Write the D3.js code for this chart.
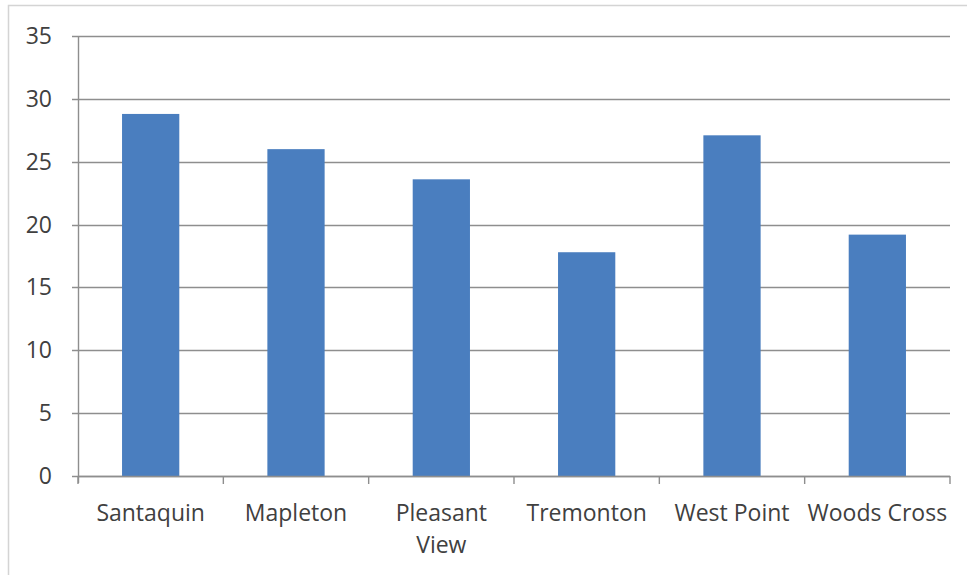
<!DOCTYPE html>
<html>
<head>
<meta charset="utf-8">
<script src="https://cdn.jsdelivr.net/npm/d3@7"></script>
<style>
  html, body { margin: 0; padding: 0; background: #ffffff; }
  svg { display: block; }
  text { font-family: "Open Sans", "Noto Sans", sans-serif; fill: #404040; }
</style>
</head>
<body>
<svg id="chart" width="967" height="575"></svg>
<script>
// Chart data
const categories = ["Santaquin", "Mapleton", "Pleasant View", "Tremonton", "West Point", "Woods Cross"];
const categoryLines = [["Santaquin"], ["Mapleton"], ["Pleasant", "View"], ["Tremonton"], ["West Point"], ["Woods Cross"]];
const values = [28.8, 26.0, 23.6, 17.8, 27.1, 19.2];
const yTicks = [0, 5, 10, 15, 20, 25, 30, 35];

const svg = d3.select("#chart");
const W = 967, H = 575;
const plot = { left: 78, right: 950, top: 36, bottom: 476 };

// Outer chart frame
svg.append("rect")
  .attr("x", 8.5).attr("y", 5.5)
  .attr("width", W + 10).attr("height", H + 10)
  .attr("fill", "none")
  .attr("stroke", "#d4d4d4")
  .attr("stroke-width", 1.5);

const x = d3.scaleBand()
  .domain(categories)
  .range([plot.left, plot.right])
  .paddingInner(0.606)
  .paddingOuter(0.303);

const y = d3.scaleLinear()
  .domain([0, 35])
  .range([plot.bottom, plot.top]);

// Horizontal gridlines with short ticks to the left of the axis
svg.append("g")
  .selectAll("line")
  .data(yTicks)
  .join("line")
  .attr("x1", plot.left - 6)
  .attr("x2", plot.right)
  .attr("y1", d => Math.round(y(d)) + 0.5)
  .attr("y2", d => Math.round(y(d)) + 0.5)
  .attr("stroke", "#8e8e8e")
  .attr("stroke-width", 1.4);

// Y tick labels
svg.append("g")
  .selectAll("text")
  .data(yTicks)
  .join("text")
  .attr("x", 52)
  .attr("y", d => y(d))
  .attr("dy", "0.35em")
  .attr("text-anchor", "end")
  .style("font-size", "23px")
  .text(d => d);

// Bars
svg.append("g")
  .selectAll("rect")
  .data(values)
  .join("rect")
  .attr("x", (d, i) => x(categories[i]))
  .attr("y", d => y(d))
  .attr("width", x.bandwidth())
  .attr("height", d => y(0) - y(d))
  .attr("fill", "#4a7ebf");

// Y axis line
svg.append("line")
  .attr("x1", plot.left + 0.5).attr("x2", plot.left + 0.5)
  .attr("y1", plot.top).attr("y2", plot.bottom + 7)
  .attr("stroke", "#8e8e8e")
  .attr("stroke-width", 1.4);

// X axis line and category boundary ticks
const step = x.step();
const boundaries = d3.range(categories.length + 1).map(i => plot.left + i * step);
svg.append("line")
  .attr("x1", plot.left).attr("x2", plot.right)
  .attr("y1", Math.round(y(0)) + 0.5).attr("y2", Math.round(y(0)) + 0.5)
  .attr("stroke", "#8e8e8e")
  .attr("stroke-width", 1.4);
svg.append("g")
  .selectAll("line")
  .data(boundaries)
  .join("line")
  .attr("x1", d => d).attr("x2", d => d)
  .attr("y1", y(0)).attr("y2", y(0) + 8)
  .attr("stroke", "#8e8e8e")
  .attr("stroke-width", 1.4);

// Category labels
const labels = svg.append("g")
  .selectAll("text")
  .data(categories)
  .join("text")
  .attr("x", d => x(d) + x.bandwidth() / 2)
  .attr("y", 521)
  .attr("text-anchor", "middle")
  .style("font-size", "23px");
labels.selectAll("tspan")
  .data((d, i) => categoryLines[i])
  .join("tspan")
  .attr("x", function () { return d3.select(this.parentNode).attr("x"); })
  .attr("dy", (d, i) => i === 0 ? 0 : 32)
  .text(d => d);
</script>
</body>
</html>
